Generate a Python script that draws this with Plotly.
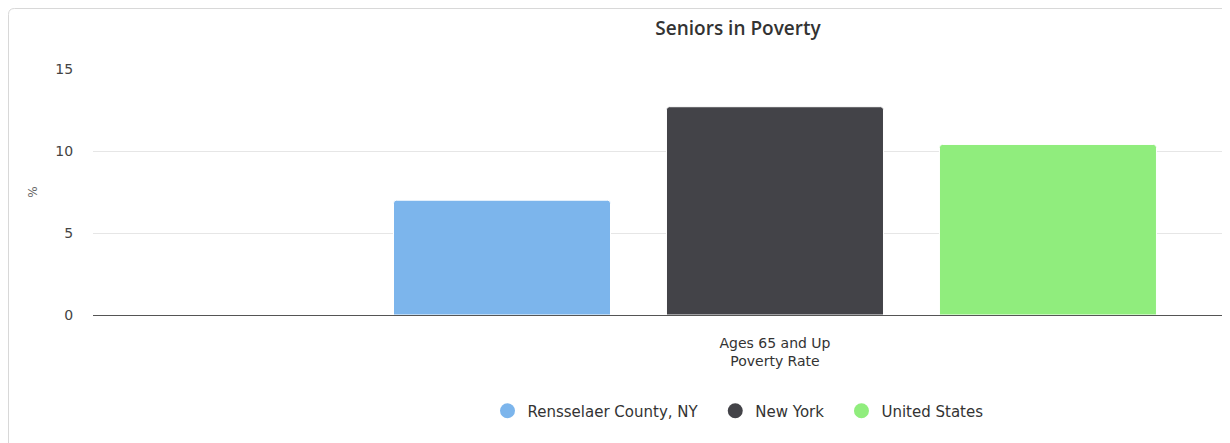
import plotly.graph_objects as go

categories = ["Ages 65 and Up<br>Poverty Rate"]
series_names = ["Rensselaer County, NY", "New York", "United States"]
rensselaer = [7.0]
new_york = [12.7]
united_states = [10.4]
colors = ["#7cb5ec", "#434348", "#90ed7d"]
y_ticks = [0, 5, 10, 15]

# page body adds an 8px offset; figure starts at screen (8, 8)
OFF = 8
W, H = 1230 - OFF, 443 - OFF
ML, MR, MT = 93 - OFF, 0, 69 - OFF
MB = H - (315 - OFF)
PW, PH = W - ML - MR, H - MT - MB

def px(x):
    return (x - OFF - ML) / PW

def py(y):
    return (H - MB - (y - OFF)) / PH

FONT = "DejaVu Sans"
PAD = "\u00a0\u00a0\u2009"  # spacing between legend items
fig = go.Figure()
for name, vals, col in zip(series_names, [rensselaer, new_york, united_states], colors):
    fig.add_trace(go.Bar(x=categories, y=vals, name=name,
                         marker=dict(color=col, line=dict(color="white", width=1), cornerradius=3),
                         showlegend=False))
for i, (name, col) in enumerate(zip(series_names, colors)):
    label = name + (PAD if i < len(series_names) - 1 else "")
    fig.add_trace(go.Scatter(x=[None], y=[None], mode="markers", name=label,
                             marker=dict(color=col, size=15, symbol="circle")))

# rounded container border
r = 6
x0, y0, x1, y1 = 8.5, 8.5, 1245, 460
path = (f"M {px(x0)} {py(y1)} L {px(x0)} {py(y0 + r)} Q {px(x0)} {py(y0)} {px(x0 + r)} {py(y0)} "
        f"L {px(x1)} {py(y0)}")
fig.add_shape(type="path", xref="paper", yref="paper", path=path,
              line=dict(color="#d8d8d8", width=1), layer="below")

fig.update_layout(
    width=W, height=H,
    margin=dict(l=ML, r=MR, t=MT, b=MB),
    paper_bgcolor="white", plot_bgcolor="white",
    barmode="group", bargap=0.3996, bargroupgap=0.205,
    font=dict(family=FONT, color="#333333"),
    title=dict(text="Seniors in Poverty", x=(738 - OFF) / W, xref="container", xanchor="center",
               y=1 - (28 - OFF) / H, yref="container", yanchor="middle",
               font=dict(size=19, color="#333333", family="Open Sans", weight=600)),
    xaxis=dict(type="category", range=[-0.5, 0.3336], showgrid=False,
               showline=True, linecolor="#555555", linewidth=1,
               ticks="outside", ticklen=15, tickcolor="rgba(0,0,0,0)",
               tickfont=dict(size=14, color="#333333", family=FONT), fixedrange=True),
    yaxis=dict(range=[0, 15], tickvals=y_ticks, showgrid=True, gridcolor="#e6e6e6", gridwidth=1,
               zeroline=False, showline=False,
               ticks="outside", ticklen=16, tickcolor="rgba(0,0,0,0)",
               tickfont=dict(size=14, color="#444444", family=FONT),
               title=dict(text="%", font=dict(size=12, color="#666666", family=FONT), standoff=15)),
    legend=dict(orientation="h", xref="container", yref="container", x=(738 - OFF) / W, xanchor="center",
                y=1 - (411 - OFF) / H, yanchor="middle", font=dict(size=15, color="#333333", family=FONT),
                itemwidth=30, tracegroupgap=0),
    showlegend=True,
)

fig.write_html("out.html")
